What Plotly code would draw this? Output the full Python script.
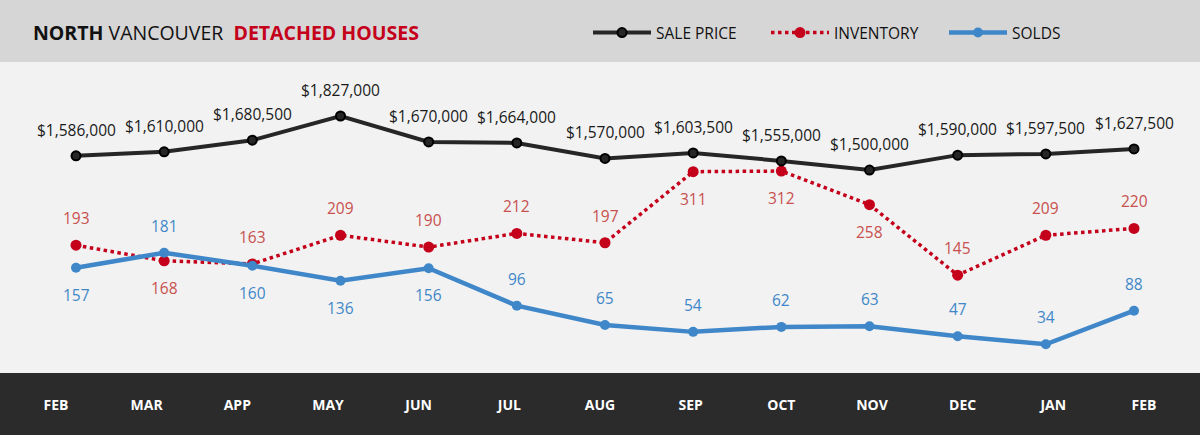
import plotly.graph_objects as go

## Chart data
months = ["FEB", "MAR", "APP", "MAY", "JUN", "JUL", "AUG", "SEP", "OCT", "NOV", "DEC", "JAN", "FEB"]
sale_price = [1586000, 1610000, 1680500, 1827000, 1670000, 1664000, 1570000,
  1603500, 1555000, 1500000, 1590000, 1597500, 1627500]
inventory = [193, 168, 163, 209, 190, 212, 197, 311, 312, 258, 145, 209, 220]
solds = [157, 181, 160, 136, 156, 96, 65, 54, 62, 63, 47, 34, 88]
# label above (1) or below (-1) each point
inv_side = [1, -1, 1, 1, 1, 1, 1, -1, -1, -1, 1, 1, 1]
sold_side = [-1, 1, -1, -1, -1, 1, 1, 1, 1, 1, 1, 1, 1]

xidx = list(range(len(months)))

# Colors
c_price = "#262626"
c_inv = "#c4001a"
c_inv_txt = "#c8504e"
c_sold = "#3f87c9"
fontf = "Open Sans"

plotfig = go.Figure()
# Sale price on secondary axis
plotfig.add_trace(go.Scatter(x=xidx, y=sale_price, name="SALE PRICE", yaxis="y2",
  mode="lines+markers", line=dict(color=c_price, width=4),
  marker=dict(size=9, color=c_price, line=dict(color="#000000", width=2))))
# Inventory (dotted)
plotfig.add_trace(go.Scatter(x=xidx, y=inventory, name="INVENTORY",
  mode="lines+markers", line=dict(color=c_inv, width=3.5, dash="dot"),
  marker=dict(size=11, color=c_inv)))
# Solds
plotfig.add_trace(go.Scatter(x=xidx, y=solds, name="SOLDS",
  mode="lines+markers", line=dict(color=c_sold, width=4.5),
  marker=dict(size=10, color=c_sold)))
# Empty trace so the month axis gets drawn
plotfig.add_trace(go.Scatter(x=xidx, y=[None] * len(xidx), xaxis="x2",
  showlegend=False, hoverinfo="skip"))

# Data labels
annots = []
for i, v in enumerate(sale_price):
  annots.append(dict(x=i, y=v, yref="y2", text="${:,}".format(v), showarrow=False,
    yshift=26, font=dict(family=fontf, size=15.5, color="#1a1a1a")))
for i, v in enumerate(inventory):
  annots.append(dict(x=i, y=v, yref="y", text=str(v), showarrow=False,
    yshift=27 * inv_side[i], font=dict(family=fontf, size=15.5, color=c_inv_txt)))
for i, v in enumerate(solds):
  annots.append(dict(x=i, y=v, yref="y", text=str(v), showarrow=False,
    yshift=27 * sold_side[i], font=dict(family=fontf, size=15.5, color=c_sold)))
# Title
annots.append(dict(xref="paper", yref="paper", x=31 / 1200, y=1 + 30 / 311,
  xanchor="left", yanchor="middle", showarrow=False,
  text="<b>NORTH</b> VANCOUVER  <b><span style='color:#c4001a'>DETACHED HOUSES</span></b>",
  font=dict(family=fontf, size=19.5, color="#111111")))

plotfig.update_layout(
  width=1200, height=435,
  margin=dict(l=0, r=0, t=62, b=62),
  paper_bgcolor="#d6d6d6", plot_bgcolor="#f2f2f2",
  xaxis=dict(range=[-76 / 88.17, 12 + 66 / 88.17], showgrid=False, zeroline=False,
    showticklabels=False, fixedrange=True),
  xaxis2=dict(overlaying="x", anchor="y", side="bottom",
    range=[-56 / 90.67, 12 + 56 / 90.67], showgrid=False, zeroline=False,
    tickvals=xidx, ticktext=months, ticks="", ticklabelstandoff=22,
    tickfont=dict(family=fontf, size=14, color="#ffffff", weight="bold")),
  yaxis=dict(range=[-12, 487], visible=False),
  yaxis2=dict(range=[271000, 2154000], overlaying="y", visible=False),
  shapes=[dict(type="rect", xref="paper", yref="paper", x0=0, x1=1,
    y0=-62 / 311, y1=0, fillcolor="#2b2b2b", line=dict(width=0), layer="below")],
  annotations=annots,
  showlegend=True,
  legend=dict(orientation="h", x=588 / 1200, y=1 + 29 / 311, xanchor="left",
    yanchor="middle", bgcolor="rgba(0,0,0,0)", itemwidth=58,
    entrywidth=105, entrywidthmode="pixels",
    font=dict(family=fontf, size=15.5, color="#111111")),
)

# Remove the page margin so the chart fills the window
plotfig.write_html("out.html", config={"displayModeBar": False},
  post_script="document.body.style.margin='0px';")
